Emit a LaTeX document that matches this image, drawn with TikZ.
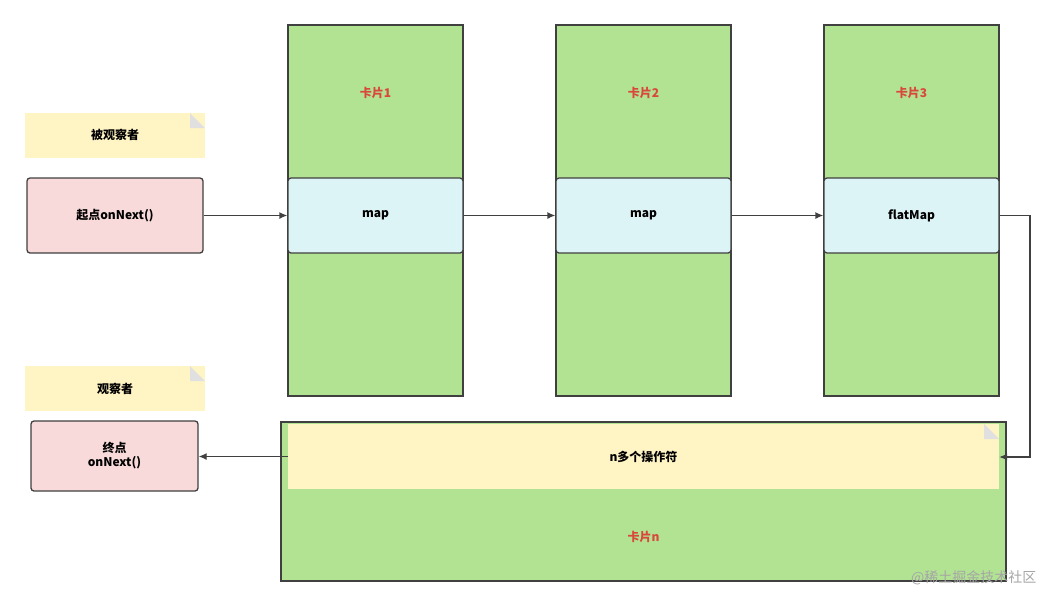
\documentclass[tikz,border=0pt]{standalone}
\usepackage{fontspec}
\setmainfont{Noto Sans CJK SC}
\usetikzlibrary{arrows.meta,shapes.misc}
\definecolor{cardgreen}{HTML}{B1E393}
\definecolor{opcyan}{HTML}{DDF4F6}
\definecolor{endpink}{HTML}{F9DADA}
\definecolor{noteyel}{HTML}{FFF4C3}
\definecolor{cardred}{HTML}{D9483B}
\tikzset{
  card/.style={draw=black!75, fill=cardgreen, line width=1.3pt, minimum width=175pt, inner sep=0pt},
  op/.style={draw=black!75, fill=opcyan, line width=1.3pt, rounded corners=3pt, minimum width=175pt, minimum height=75pt, font=\bfseries\fontsize{12}{14}\selectfont},
  pt/.style={draw=black!75, fill=endpink, line width=1.3pt, rounded corners=3pt, font=\bfseries\fontsize{12}{14}\selectfont, align=center},
  note/.style={fill=noteyel, minimum width=180pt, minimum height=45pt, font=\bfseries\fontsize{12}{14}\selectfont},
  lbl/.style={text=cardred, font=\bfseries\fontsize{12}{14}\selectfont},
  link/.style={-{Latex[length=8pt,width=7pt]}, line width=1.3pt, draw=black!75}
}
\begin{document}
\begin{tikzpicture}[x=1pt,y=-1pt]
 \useasboundingbox (0,0) rectangle (1054,606);

 % observable side
 \node[note] (src note) at (115,135) {被观察者};
 \fill[black!12] (190,113) -- (205,128) -- (190,128) -- cycle;
 \node[pt, minimum width=176pt, minimum height=75pt] (start) at (115,215.5) {起点onNext()};

 % cards
 \foreach \i/\cx in {1/375.5, 2/643.5, 3/911.5} {
   \node[card, minimum height=371pt] (card\i) at (\cx,210.5) {};
   \node[lbl] (title\i) at (\cx,93) {卡片\i};
 }
 \node[op] (op1) at (375.5,215.5) {map};
 \node[op] (op2) at (643.5,215.5) {map};
 \node[op] (op3) at (911.5,215.5) {flatMap};

 % observer side
 \node[note] (dst note) at (115,388.5) {观察者};
 \fill[black!12] (190,366) -- (205,381) -- (190,381) -- cycle;
 \node[pt, minimum width=167pt, minimum height=70pt] (end) at (114.5,456) {终点\\onNext()};

 % bottom card
 \node[card, minimum width=725pt, minimum height=159pt] (cardn) at (643.5,501.5) {};
 \node[fill=noteyel, minimum width=711pt, minimum height=65pt, inner sep=0pt, font=\bfseries\fontsize{12}{14}\selectfont] (ops) at (643.5,456.5) {n多个操作符};
 \fill[black!12] (984,424) -- (999,439) -- (984,439) -- cycle;
 \node[lbl] (titlen) at (643.5,537) {卡片n};

 % connectors
 \coordinate (turn top) at (1030,215.5);
 \coordinate (turn bot) at (1030,457);
 \draw[link] (start) -- (op1);
 \draw[link] (op1) -- (op2);
 \draw[link] (op2) -- (op3);
 \draw[link] (op3.east) -- (turn top) -- (turn bot) -- (ops.east |- turn bot);
 \draw[link] (ops.west) -- (end.east |- ops.west);

 \node[text=black!35, font=\fontsize{14}{16}\selectfont, anchor=east] (mark) at (1040,578) {@稀土掘金技术社区};
\end{tikzpicture}
\end{document}
